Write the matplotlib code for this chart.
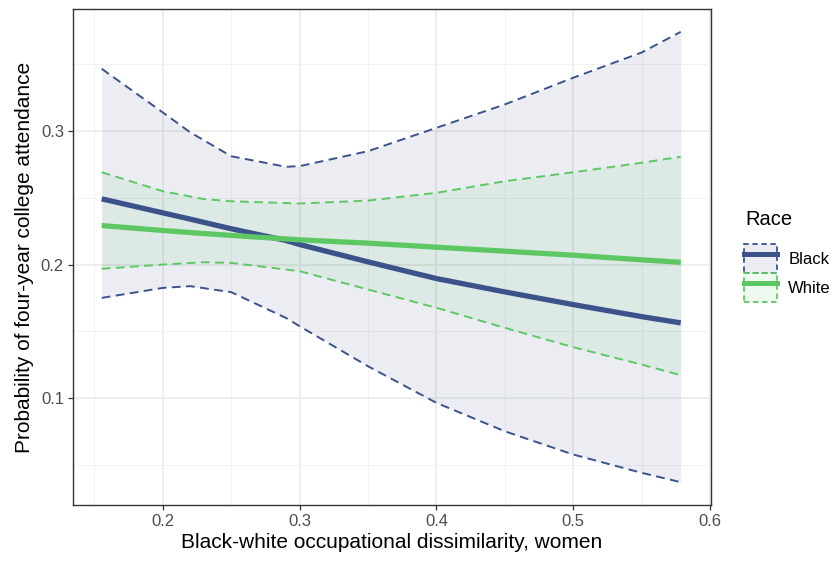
import matplotlib
matplotlib.use("Agg")
import matplotlib.pyplot as plt
import numpy as np
from matplotlib.patches import Patch
from matplotlib.lines import Line2D
from matplotlib.legend_handler import HandlerTuple

plt.rcParams.update({
    "font.family": ["Liberation Sans", "DejaVu Sans"],
    "font.size": 12,
})

# predicted probabilities with 95% bands, by race
x_black = [0.1553, 0.2, 0.22, 0.25, 0.29, 0.3, 0.35, 0.4, 0.45, 0.5, 0.55, 0.5786]
fit_black = [0.2492, 0.2387, 0.2340, 0.2268, 0.2180, 0.2150, 0.2020, 0.1895, 0.1795, 0.1700, 0.1610, 0.1563]
upper_black = [0.3466, 0.3139, 0.2990, 0.2811, 0.2732, 0.2737, 0.2849, 0.3024, 0.3199, 0.3399, 0.3588, 0.3743]
lower_black = [0.1750, 0.1825, 0.1838, 0.1793, 0.1600, 0.1538, 0.1238, 0.0964, 0.0751, 0.0577, 0.0440, 0.0370]

x_white = [0.1553, 0.2, 0.23, 0.25, 0.3, 0.35, 0.4, 0.45, 0.5, 0.55, 0.5786]
fit_white = [0.2292, 0.2255, 0.2232, 0.2218, 0.2185, 0.2160, 0.2130, 0.2100, 0.2070, 0.2035, 0.2017]
upper_white = [0.2691, 0.2549, 0.2490, 0.2474, 0.2457, 0.2479, 0.2537, 0.2624, 0.2691, 0.2762, 0.2807]
lower_white = [0.1968, 0.2000, 0.2017, 0.2012, 0.1950, 0.1813, 0.1676, 0.1526, 0.1381, 0.1251, 0.1171]

c_black = "#3B528B"
c_white = "#5DC863"
dash = (0, (4.5, 2.8))

fig = plt.figure(figsize=(8.38, 5.65), dpi=100)
ax = fig.add_axes([0.0871, 0.1062, 0.7613, 0.8779])

for xs, fit, lo, hi, c in [(x_black, fit_black, lower_black, upper_black, c_black),
                            (x_white, fit_white, lower_white, upper_white, c_white)]:
    ax.fill_between(xs, lo, hi, color=c, alpha=0.1, lw=0, zorder=2)
    ax.plot(xs, lo, color=c, ls=dash, lw=1.4, zorder=3)
    ax.plot(xs, hi, color=c, ls=dash, lw=1.4, zorder=3)

ax.plot(x_black, fit_black, color=c_black, lw=3.8, zorder=4, solid_capstyle="butt")
ax.plot(x_white, fit_white, color=c_white, lw=3.8, zorder=4, solid_capstyle="butt")

ax.set_xlim(0.1343, 0.6007)
ax.set_ylim(0.0199, 0.3914)
ax.set_xticks([0.2, 0.3, 0.4, 0.5, 0.6])
ax.set_xticklabels(["0.2", "0.3", "0.4", "0.5", "0.6"])
ax.set_yticks([0.1, 0.2, 0.3])
ax.set_yticklabels(["0.1", "0.2", "0.3"])
ax.set_xticks([0.15, 0.25, 0.35, 0.45, 0.55], minor=True)
ax.set_yticks([0.05, 0.15, 0.25, 0.35], minor=True)
ax.grid(which="major", color="#EBEBEB", lw=1.2, zorder=0)
ax.grid(which="minor", color="#F2F2F2", lw=0.7, zorder=0)
ax.set_axisbelow(True)
ax.tick_params(which="major", length=3.5, width=0.9, color="#333333",
               labelsize=12, labelcolor="#4D4D4D", pad=3)
ax.tick_params(which="minor", length=0)
for s in ax.spines.values():
    s.set_color("#333333")
    s.set_linewidth(1.0)

ax.set_xlabel("Black-white occupational dissimilarity, women", fontsize=15, labelpad=3)
ax.set_ylabel("Probability of four-year college attendance", fontsize=15, labelpad=5)

# legend: filled dashed box with the fit line across it
handles = []
for c in [c_black, c_white]:
    box = Patch(facecolor=matplotlib.colors.to_rgba(c, 0.1), edgecolor=c, linestyle=(0, (3, 2)), lw=1.3)
    line = Line2D([], [], color=c, lw=3.6)
    handles.append((box, line))
fig.text(745 / 838, 1 - 220 / 565, "Race", fontsize=14.5, ha="left", va="center")
fig.legend(handles, ["Black", "White"],
           handler_map={tuple: HandlerTuple(ndivide=1, pad=0)},
           loc="center left", bbox_to_anchor=(744 / 838, 1 - 273 / 565), frameon=False,
           fontsize=12, handlelength=1.95, handleheight=2.3,
           labelspacing=0.0, handletextpad=0.7, borderaxespad=0, borderpad=0)

fig.savefig("out.png", dpi=100)
